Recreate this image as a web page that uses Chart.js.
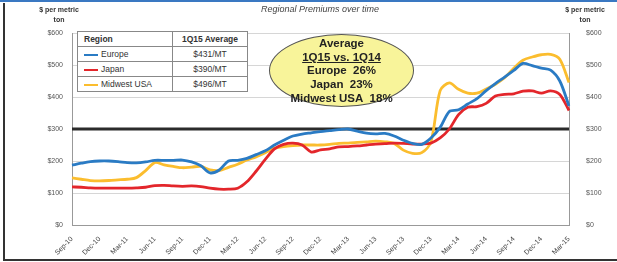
<!DOCTYPE html>
<html>
<head>
<meta charset="utf-8">
<script src="https://cdn.jsdelivr.net/npm/chart.js@4.4.1/dist/chart.umd.min.js"></script>
<style>
    body { margin: 0; background: #fff; font-family: "Liberation Sans", Arial, sans-serif; }
    #wrap { position: relative; width: 617px; height: 262px; overflow: hidden; }
    #topBar { position: absolute; left: 0; top: 0; width: 617px; height: 2px; background: #3a78c2; }
    #leftBar { position: absolute; left: 3px; top: 3px; width: 2px; height: 258px; background: #333; }
    #bottomBar { position: absolute; left: 3px; top: 259px; width: 614px; height: 2px; background: #333; }
    canvas { position: absolute; left: 0; top: 0; }
    .unit { position: absolute; font-size: 7px; font-weight: bold; color: #333; text-align: center; line-height: 10px; }
    #title { position: absolute; left: 200px; width: 240px; top: 4px; text-align: center; font-size: 9px; font-style: italic; color: #444; }
    #legend { position: absolute; left: 77px; top: 31px; border-collapse: collapse; background: #fff; font-size: 8.5px; color: #333; border: 1.5px solid #777; }
    #legend td { border: 1px solid #888; height: 14px; padding: 0 6px; }
    #legend td.val { text-align: center; width: 62px; }
    #legend td.name { width: 82px; }
    #legend .sw { display: inline-block; width: 14px; height: 2px; vertical-align: middle; margin-right: 3px; }
    #bubble { position: absolute; left: 269px; top: 34px; width: 145px; height: 73px; border-radius: 50%;
        background: #f8f49a; border: 1px solid #555; text-align: center; font-weight: bold; font-size: 11.5px;
        line-height: 13.7px; color: #222; box-sizing: border-box; padding-top: 2px; }
</style>
</head>
<body>
<div id="wrap">
    <canvas id="premiumChart" width="617" height="262"></canvas>
    <div id="topBar"></div>
    <div id="leftBar"></div>
    <div id="bottomBar"></div>
    <div class="unit" style="left:30px; top:5px; width:58px;">$ per metric<br>ton</div>
    <div class="unit" style="left:556px; top:5px; width:58px;">$ per metric<br>ton</div>
    <div id="title">Regional Premiums over time</div>
    <table id="legend"></table>
    <div id="bubble"></div>
</div>
<script>
const monthNames = ['Jan', 'Feb', 'Mar', 'Apr', 'May', 'Jun', 'Jul', 'Aug', 'Sep', 'Oct', 'Nov', 'Dec'];
const startMonth = 8;   // Sep
const startYear = 10;
const monthCount = 55;  // Sep-10 .. Mar-15

const yTicks = [0, 100, 200, 300, 400, 500, 600];
const refLine = 300;

const regions = ['Europe', 'Japan', 'Midwest USA'];
const regionColors = ['#2a7bc4', '#e3262b', '#fbbd2e'];
const averages = ['$431/MT', '$390/MT', '$496/MT'];

const europe = [187, 193, 198, 200, 200, 198, 195, 194, 197, 202, 202, 202, 203, 197, 185, 163, 172, 200, 202, 208,
    220, 232, 250, 265, 278, 284, 288, 292, 295, 298, 300, 293, 287, 285, 286, 278, 265, 255, 252, 272,
    305, 355, 360, 378, 395, 420, 442, 462, 483, 505, 498, 490, 484, 450, 372];
const japan = [119, 118, 116, 115, 115, 115, 115, 116, 118, 123, 124, 122, 121, 122, 120, 115, 112, 112, 115, 135,
    168, 205, 238, 252, 256, 250, 228, 235, 238, 244, 245, 247, 250, 253, 254, 256, 255, 253, 253, 256,
    272, 300, 345, 368, 370, 380, 403, 408, 410, 418, 419, 412, 419, 408, 358];
const midwest = [147, 143, 139, 138, 139, 141, 143, 148, 170, 195, 188, 183, 179, 181, 183, 172, 170, 180, 190, 203,
    213, 226, 240, 245, 248, 250, 250, 250, 252, 255, 256, 258, 260, 262, 260, 255, 234, 224, 226, 260,
    420, 444, 424, 412, 412, 425, 440, 460, 490, 515, 525, 532, 533, 518, 445];

const bubbleLines = ['Average', '1Q15 vs. 1Q14', 'Europe  26%', 'Japan  23%', 'Midwest USA  18%'];

function buildMonths() {
    const labels = [];
    for (let i = 0; i < monthCount; i++) {
        const m = (startMonth + i) % 12;
        const y = startYear + Math.floor((startMonth + i) / 12);
        labels.push(`${monthNames[m]}-${y}`);
    }
    return labels;
}

function buildLegend() {
    const table = document.getElementById('legend');
    let html = '<tr><td class="name"><b>Region</b></td><td class="val"><b>1Q15 Average</b></td></tr>';
    regions.forEach((name, i) => {
        html += `<tr><td class="name"><span class="sw" style="background:${regionColors[i]}"></span>${name}</td>` +
            `<td class="val">${averages[i]}</td></tr>`;
    });
    table.innerHTML = html;

    document.getElementById('bubble').innerHTML = bubbleLines.map((line, i) =>
        i === 1 ? `<u>${line}</u>` : line
    ).join('<br>').replace(/  /g, '&nbsp;&nbsp;');
}

const refLinePlugin = {
    id: 'refLine',
    beforeDatasetsDraw(chart) {
        const { ctx, chartArea, scales } = chart;
        const y = scales.y.getPixelForValue(refLine);
        ctx.save();
        ctx.strokeStyle = '#2b2b2b';
        ctx.lineWidth = 3;
        ctx.beginPath();
        ctx.moveTo(chartArea.left, y);
        ctx.lineTo(chartArea.right, y);
        ctx.stroke();
        ctx.restore();
    }
};

function makeDataset(label, data, color) {
    return {
        label: label,
        data: data,
        borderColor: color,
        borderWidth: 2.8,
        pointRadius: 0,
        tension: 0.3,
        fill: false
    };
}

function initChart() {
    const months = buildMonths();
    const tickFont = { family: '"Liberation Sans", Arial, sans-serif', size: 7 };
    const ctx = document.getElementById('premiumChart').getContext('2d');
    new Chart(ctx, {
        type: 'line',
        data: {
            labels: months,
            datasets: [
                makeDataset(regions[0], europe, regionColors[0]),
                makeDataset(regions[1], japan, regionColors[1]),
                makeDataset(regions[2], midwest, regionColors[2])
            ]
        },
        options: {
            responsive: false,
            animation: false,
            layout: { padding: { top: 33, left: 0, right: 0, bottom: 0 } },
            plugins: { legend: { display: false }, tooltip: { enabled: false } },
            scales: {
                x: {
                    grid: { display: false },
                    border: { color: '#999' },
                    ticks: {
                        autoSkip: false,
                        minRotation: 45,
                        maxRotation: 45,
                        font: tickFont,
                        color: '#444',
                        padding: 2,
                        callback: (v, i) => i % 3 === 0 ? months[i] : ''
                    },
                    afterFit: scale => { scale.height = 37; }
                },
                y: {
                    position: 'left',
                    min: 0,
                    max: 600,
                    afterBuildTicks: scale => { scale.ticks = yTicks.map(v => ({ value: v })); },
                    grid: { color: '#d6d6d6', drawTicks: false },
                    border: { color: '#999' },
                    ticks: { font: tickFont, color: '#555', padding: 9, callback: v => '$' + v },
                    afterFit: scale => { scale.width = 72; }
                },
                y2: {
                    position: 'right',
                    min: 0,
                    max: 600,
                    afterBuildTicks: scale => { scale.ticks = yTicks.map(v => ({ value: v })); },
                    grid: { display: false },
                    border: { color: '#999' },
                    ticks: { font: tickFont, color: '#555', padding: 9, callback: v => '$' + v },
                    afterFit: scale => { scale.width = 48; }
                }
            }
        },
        plugins: [refLinePlugin]
    });
}

document.addEventListener('DOMContentLoaded', function() {
    buildLegend();
    initChart();
});
</script>
</body>
</html>
